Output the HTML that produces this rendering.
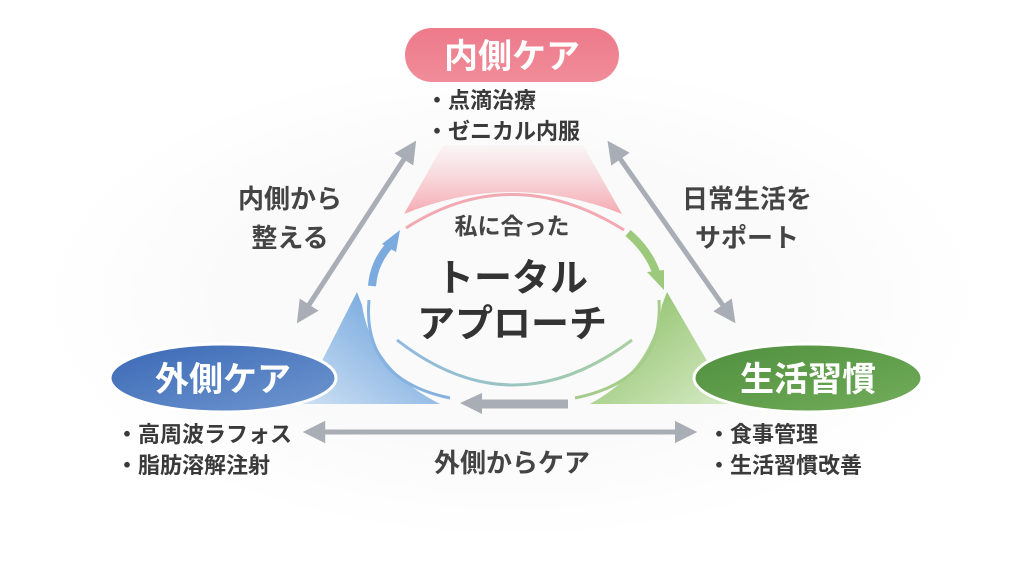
<!DOCTYPE html>
<html><head><meta charset="utf-8"><style>
html,body{margin:0;padding:0;background:#fff;width:1024px;height:576px;overflow:hidden}
text{font-family:"Liberation Sans","Noto Sans CJK JP",sans-serif}
</style></head><body>
<svg width="1024" height="576" viewBox="0 0 1024 576" xmlns="http://www.w3.org/2000/svg">
<defs>
<radialGradient id="bg" cx="0.5" cy="0.5" r="0.5"><stop offset="0.6" stop-color="#fafafa"/><stop offset="1" stop-color="#ffffff"/></radialGradient>
<linearGradient id="pinkT" x1="0" y1="0" x2="0" y2="1"><stop offset="0" stop-color="#f7c3c8" stop-opacity="0.1"/><stop offset="1" stop-color="#f4aab2"/></linearGradient>
<linearGradient id="blueT" x1="1" y1="0" x2="0" y2="1"><stop offset="0.3" stop-color="#7faee0"/><stop offset="1" stop-color="#cfe1f4"/></linearGradient>
<linearGradient id="greenT" x1="0" y1="0" x2="1" y2="1"><stop offset="0.3" stop-color="#9dc97c"/><stop offset="1" stop-color="#d6ebc5"/></linearGradient>
<linearGradient id="pill" x1="0" y1="0" x2="0" y2="1"><stop offset="0" stop-color="#ee7a8a"/><stop offset="1" stop-color="#f08c99"/></linearGradient>
<linearGradient id="bl" x1="0" y1="0" x2="1" y2="1"><stop offset="0" stop-color="#3a68b5"/><stop offset="1" stop-color="#6f97d0"/></linearGradient>
<linearGradient id="gr" x1="0" y1="0" x2="1" y2="1"><stop offset="0" stop-color="#4f8f3e"/><stop offset="1" stop-color="#72ad5a"/></linearGradient>
<linearGradient id="inner" x1="0" y1="0" x2="1" y2="0"><stop offset="0" stop-color="#8fb8e2"/><stop offset="1" stop-color="#a8d0a0"/></linearGradient>
<marker id="ah" viewBox="0 0 10 10" refX="5" refY="5" markerWidth="4.5" markerHeight="4.5" orient="auto-start-reverse"><path d="M0,0 L10,5 L0,10 z" fill="#a9aeb6"/></marker>
</defs>
<rect width="1024" height="576" fill="#fff"/>
<ellipse cx="512" cy="300" rx="470" ry="240" fill="url(#bg)"/>

<path d="M443,145 L583,145 L622,214 Q512,170 404,214 Z" fill="url(#pinkT)"/>
<path d="M357,292 L300,404 L440,404 Q372,370 362,305 Z" fill="url(#blueT)"/>
<path d="M667,292 L732,404 L590,404 Q652,370 662,305 Z" fill="url(#greenT)"/>

<path d="M406,228 Q512,160 624,230" fill="none" stroke="#f2a9b1" stroke-width="3"/>
<path d="M369,300 Q362,380 450,398" fill="none" stroke="#86b2e0" stroke-width="3"/>
<path d="M659,300 Q664,380 575,398" fill="none" stroke="#a6cc8c" stroke-width="3"/>
<path d="M397,340 Q512,430 632,340" fill="none" stroke="url(#inner)" stroke-width="3"/>

<path d="M372,286 Q374,262 390,245" fill="none" stroke="#7aaade" stroke-width="8"/>
<path d="M400,230 L382,244 L396,252 Z" fill="#7aaade"/>
<path d="M628,233 Q648,250 656,272" fill="none" stroke="#9cc97c" stroke-width="8"/>
<path d="M664,290 L647,272 L664,270 Z" fill="#9cc97c"/>
<path d="M568,404 L478,404" stroke="#a9aeb6" stroke-width="9"/>
<path d="M460,403 L482,393 L482,414 Z" fill="#a9aeb6"/>

<line x1="410" y1="150" x2="303" y2="314" stroke="#a9aeb6" stroke-width="5" marker-start="url(#ah)" marker-end="url(#ah)"/>
<line x1="614" y1="150" x2="729" y2="314" stroke="#a9aeb6" stroke-width="5" marker-start="url(#ah)" marker-end="url(#ah)"/>
<line x1="314" y1="432" x2="686" y2="432" stroke="#a9aeb6" stroke-width="5" marker-start="url(#ah)" marker-end="url(#ah)"/>

<rect x="405" y="28" width="214" height="54" rx="27" fill="url(#pill)"/>
<text x="512" y="68" text-anchor="middle" font-size="34" fill="#fff" font-weight="bold">内側ケア</text>

<ellipse cx="223" cy="378" rx="113" ry="34" fill="url(#bl)" stroke="#fff" stroke-width="3"/>
<text x="223" y="391" text-anchor="middle" font-size="34" fill="#fff" font-weight="bold">外側ケア</text>
<ellipse cx="808" cy="378" rx="114" ry="34" fill="url(#gr)" stroke="#fff" stroke-width="3"/>
<text x="808" y="391" text-anchor="middle" font-size="34" fill="#fff" font-weight="bold">生活習慣</text>

<g font-size="22" fill="#3a3a3a" font-weight="bold">
<text x="426" y="108">・点滴治療</text>
<text x="426" y="139">・ゼニカル内服</text>
<text x="116" y="442">・高周波ラフォス</text>
<text x="116" y="473">・脂肪溶解注射</text>
<text x="708" y="442">・食事管理</text>
<text x="708" y="473">・生活習慣改善</text>
</g>

<g font-size="26" fill="#444" font-weight="bold" text-anchor="middle">
<text x="290" y="208">内側から</text>
<text x="290" y="247">整える</text>
<text x="747" y="208">日常生活を</text>
<text x="747" y="247">サポート</text>
<text x="512" y="472">外側からケア</text>
</g>

<text x="512" y="234" text-anchor="middle" font-size="23" fill="#444" font-weight="bold">私に合った</text>
<text x="512" y="291" text-anchor="middle" font-size="38" fill="#333" font-weight="bold">トータル</text>
<text x="512" y="337" text-anchor="middle" font-size="38" fill="#333" font-weight="bold">アプローチ</text>
</svg>
</body></html>
